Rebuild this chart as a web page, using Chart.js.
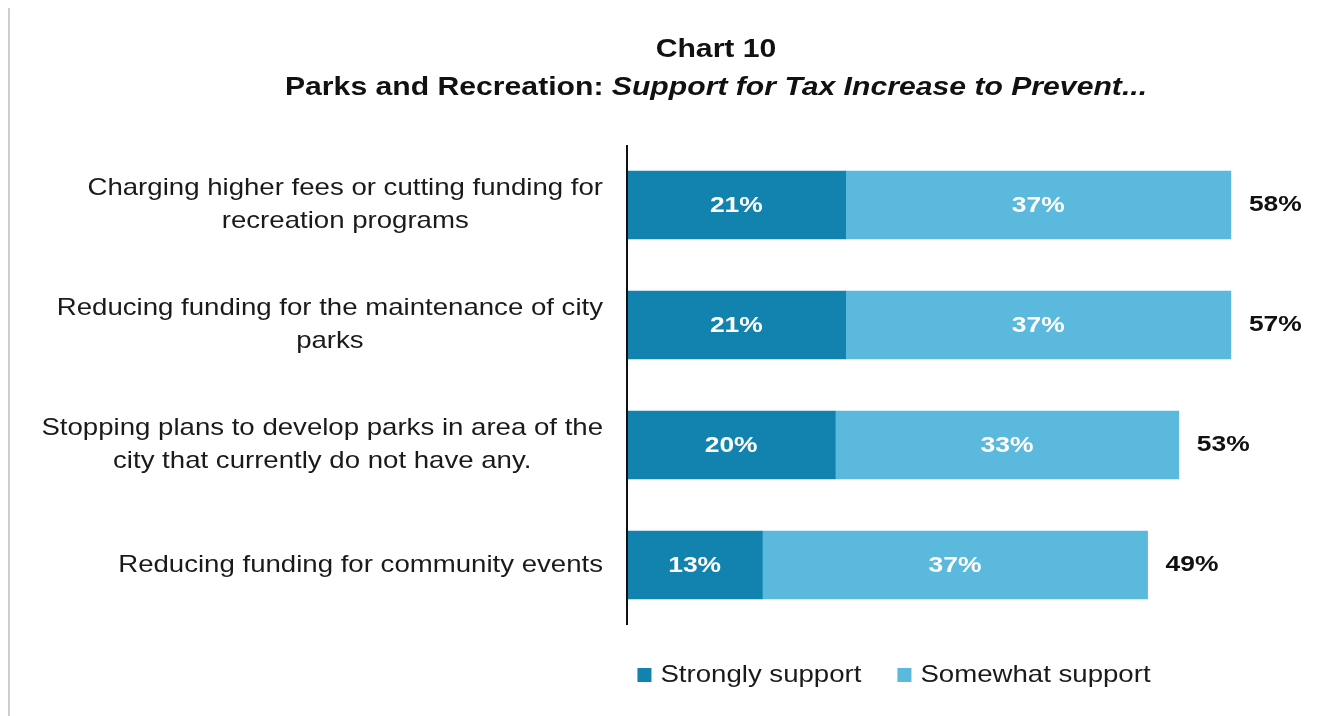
<!DOCTYPE html>
<html>
<head>
<meta charset="utf-8">
<script src="https://cdn.jsdelivr.net/npm/chart.js@4.4.1/dist/chart.umd.min.js"></script>
<style>
  html, body { margin: 0; padding: 0; background: #fff; }
  #wrap { width: 1340px; height: 716px; position: relative; }
</style>
</head>
<body>
<div id="wrap"><canvas id="myChart" width="1340" height="716"></canvas></div>
<script>
// data
const categories = [
  ["Charging higher fees or cutting funding for", "recreation programs"],
  ["Reducing funding for the maintenance of city", "parks"],
  ["Stopping plans to develop parks in area of the", "city that currently do not have any."],
  ["Reducing funding for community events"]
];
const stronglySupport = [21, 21, 20, 13];
const somewhatSupport = [37, 37, 33, 37];
const totalLabels     = ["58%", "57%", "53%", "49%"];
const seriesNames     = ["Strongly support", "Somewhat support"];

const chartTitle     = "Chart 10";
const subtitleBold   = "Parks and Recreation: ";
const subtitleItalic = "Support for Tax Increase to Prevent...";

const darkBlue  = "#1283ae";
const lightBlue = "#5ab9dd";
const FONT      = '"Liberation Sans", Arial, sans-serif';

// draws text stretched horizontally (the reference text is a bit wide)
function wideText(ctx, text, x, y, font, color, align, stretch) {
  ctx.save();
  ctx.font = font;
  ctx.fillStyle = color;
  ctx.textBaseline = "middle";
  ctx.textAlign = align || "left";
  ctx.translate(x, y);
  ctx.scale(stretch, 1);
  ctx.fillText(text, 0, 0);
  ctx.restore();
}

function wideWidth(ctx, text, font, stretch) {
  ctx.save();
  ctx.font = font;
  const w = ctx.measureText(text).width * stretch;
  ctx.restore();
  return w;
}

const decorations = {
  id: "decorations",
  beforeDraw(chart) {
    const ctx = chart.ctx;
    ctx.save();
    ctx.fillStyle = "#fff";
    ctx.fillRect(0, 0, chart.width, chart.height);
    ctx.strokeStyle = "#c9ced6";
    ctx.lineWidth = 2;
    ctx.beginPath();
    ctx.moveTo(9, 8);
    ctx.lineTo(9, chart.height);
    ctx.stroke();
    ctx.restore();
  },
  afterDraw(chart) {
    const ctx = chart.ctx;
    const area = chart.chartArea;
    const yScale = chart.scales.y;

    // title
    const titleFont  = "bold 26px " + FONT;
    const italicFont = "italic bold 26px " + FONT;
    const ts = 1.16;
    wideText(ctx, chartTitle, 716, 50, titleFont, "#111", "center", ts);
    const w1 = wideWidth(ctx, subtitleBold, titleFont, ts);
    const w2 = wideWidth(ctx, subtitleItalic, italicFont, ts);
    const sx = 716 - (w1 + w2) / 2;
    wideText(ctx, subtitleBold, sx, 88, titleFont, "#111", "left", ts);
    wideText(ctx, subtitleItalic, sx + w1, 88, italicFont, "#111", "left", ts);

    // axis line
    ctx.save();
    ctx.strokeStyle = "#111";
    ctx.lineWidth = 2;
    ctx.beginPath();
    ctx.moveTo(area.left, area.top);
    ctx.lineTo(area.left, area.bottom);
    ctx.stroke();
    ctx.restore();

    // category labels, block centred, widest line ending near the axis
    const catFont = "24px " + FONT;
    const cs = 1.15;
    categories.forEach((lines, i) => {
      const cy = yScale.getPixelForValue(i);
      const maxW = Math.max(...lines.map(l => wideWidth(ctx, l, catFont, cs)));
      const cx = area.left - 24 - maxW / 2;
      const lh = 33;
      lines.forEach((l, k) => {
        const ly = cy + (k - (lines.length - 1) / 2) * lh;
        wideText(ctx, l, cx, ly, catFont, "#1a1a1a", "center", cs);
      });
    });

    // values inside segments
    const valFont = "bold 22px " + FONT;
    const vs = 1.2;
    chart.data.datasets.forEach((ds, d) => {
      chart.getDatasetMeta(d).data.forEach((bar, i) => {
        wideText(ctx, ds.data[i] + "%", (bar.x + bar.base) / 2, bar.y + 1, valFont, "#fff", "center", vs);
      });
    });

    // totals at the end of each bar
    const lastMeta = chart.getDatasetMeta(chart.data.datasets.length - 1);
    lastMeta.data.forEach((bar, i) => {
      wideText(ctx, totalLabels[i], bar.x + 18, bar.y, valFont, "#111", "left", vs);
    });

    // legend
    const legFont = "24px " + FONT;
    const colors = [darkBlue, lightBlue];
    const box = 14, gap = 9, itemGap = 36;
    const widths = seriesNames.map(n => box + gap + wideWidth(ctx, n, legFont, cs));
    const total = widths.reduce((a, b) => a + b, 0) + itemGap;
    let lx = 894 - total / 2;
    const ly = 675;
    seriesNames.forEach((n, i) => {
      ctx.fillStyle = colors[i];
      ctx.fillRect(lx, ly - box / 2, box, box);
      wideText(ctx, n, lx + box + gap, ly, legFont, "#1a1a1a", "left", cs);
      lx += widths[i] + itemGap;
    });
  }
};

const ctx = document.getElementById("myChart");

new Chart(ctx, {
  type: "bar",
  data: {
    labels: categories,
    datasets: [
      { label: seriesNames[0], data: stronglySupport, backgroundColor: darkBlue, barThickness: 68 },
      { label: seriesNames[1], data: somewhatSupport, backgroundColor: lightBlue, barThickness: 68 }
    ]
  },
  options: {
    indexAxis: "y",
    responsive: false,
    animation: false,
    devicePixelRatio: 1,
    layout: { padding: { left: 627, right: 5, top: 145, bottom: 91 } },
    scales: {
      x: { stacked: true, min: 0, max: 68, display: false },
      y: { stacked: true, display: false }
    },
    plugins: {
      legend: { display: false },
      title: { display: false },
      tooltip: { enabled: false }
    }
  },
  plugins: [decorations]
});
</script>
</body>
</html>
